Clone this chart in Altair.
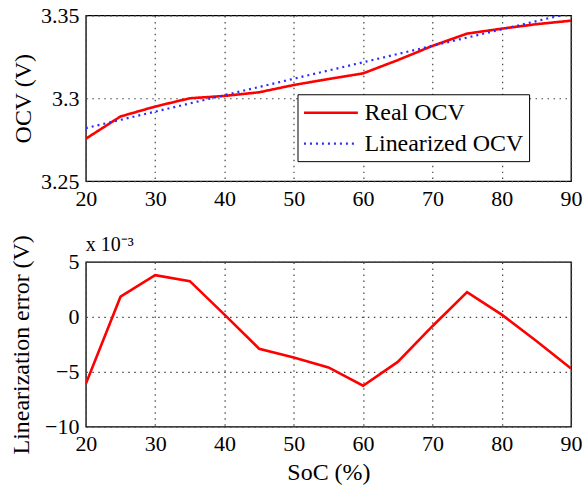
import altair as alt
import pandas as pd

# ---- data ----
soc = [20, 25, 30, 35, 40, 45, 50, 55, 60, 65, 70, 75, 80, 85, 90]
real_ocv = [3.2756, 3.289, 3.295, 3.300, 3.3014, 3.3036, 3.308, 3.3116,
            3.315, 3.323, 3.3316, 3.339, 3.342, 3.3447, 3.3468]
lin_soc = [20, 90]
lin_ocv = [3.282, 3.3515]
lin_err = [-6.1, 1.84, 3.8, 3.25, 0.2, -2.9, -3.7, -4.6, -6.27, -4.1,
           -0.85, 2.25, 0.2, -2.2, -4.7]
series_names = ["Real OCV", "Linearized OCV"]
x_ticks = [20, 30, 40, 50, 60, 70, 80, 90]
ocv_ticks = [3.25, 3.3, 3.35]
err_ticks = [-10, -5, 0, 5]

FONT = "Liberation Serif, Times New Roman, serif"

ocv_df = pd.concat([
    pd.DataFrame({"soc": soc, "v": real_ocv, "series": series_names[0]}),
    pd.DataFrame({"soc": lin_soc, "v": lin_ocv, "series": series_names[1]}),
], ignore_index=True)
err_df = pd.DataFrame({"soc": soc, "e": lin_err})

grid_axis = dict(grid=True, gridColor="#444444", gridDash=[1.5, 4.5],
                 gridWidth=1.2, ticks=False, domain=False, labelFlush=False,
                 labelFont=FONT, labelFontSize=22, labelColor="black",
                 titleFont=FONT, titleFontSize=24, titleFontWeight="normal",
                 titleColor="black", labelPadding=7)

xscale = alt.Scale(domain=[20, 90], nice=False, zero=False)

legend_opts = dict(title=None, orient="none", legendX=212, legendY=79,
                   symbolType="M-1,0H3.5", symbolSize=576,
                   symbolStrokeWidth=2.5,
                   labelFont=FONT, labelFontSize=24, labelColor="black",
                   labelOffset=35, rowPadding=5, padding=5,
                   strokeColor="black", fillColor="white",
                   cornerRadius=0, labelLimit=400)

top = alt.Chart(ocv_df).mark_line(clip=True).encode(
    x=alt.X("soc:Q", scale=xscale,
            axis=alt.Axis(values=x_ticks, title=None, **grid_axis)),
    y=alt.Y("v:Q", scale=alt.Scale(domain=[3.25, 3.35], nice=False, zero=False),
            axis=alt.Axis(values=ocv_ticks, format="~g", title="OCV (V)",
                          titlePadding=5, **grid_axis)),
    color=alt.Color("series:N", sort=series_names,
                    scale=alt.Scale(domain=series_names, range=["#ff0000", "#2b2bff"]),
                    legend=alt.Legend(**legend_opts)),
    strokeDash=alt.StrokeDash("series:N", sort=series_names,
                              scale=alt.Scale(domain=series_names, range=[[1, 0], [2, 4]]),
                              legend=alt.Legend(**legend_opts)),
    strokeWidth=alt.StrokeWidth("series:N", sort=series_names,
                                scale=alt.Scale(domain=series_names, range=[2.6, 2.2]),
                                legend=None),
).properties(width=486, height=166)

bottom = alt.Chart(err_df).mark_line(color="#ff0000", strokeWidth=2.6, clip=True).encode(
    x=alt.X("soc:Q", scale=xscale,
            axis=alt.Axis(values=x_ticks, title="SoC (%)", titlePadding=6, **grid_axis)),
    y=alt.Y("e:Q", scale=alt.Scale(domain=[-10, 5], nice=False, zero=False),
            axis=alt.Axis(values=err_ticks, title="Linearization error (V)",
                          titlePadding=11, **grid_axis)),
).properties(
    width=486, height=165,
    title=alt.TitleParams("x 10\u207b\u00b3", anchor="start", font=FONT, fontSize=20,
                          fontWeight="normal", color="black", offset=-20, frame="group"),
)

chart = alt.vconcat(top, bottom, spacing=81, bounds="flush").properties(
    padding={"left": 8, "top": 3, "right": 0, "bottom": 5},
    background="white",
).configure_view(stroke="black", strokeWidth=1.3)

chart.save("out.html", embed_options={"renderer": "svg", "actions": False})
